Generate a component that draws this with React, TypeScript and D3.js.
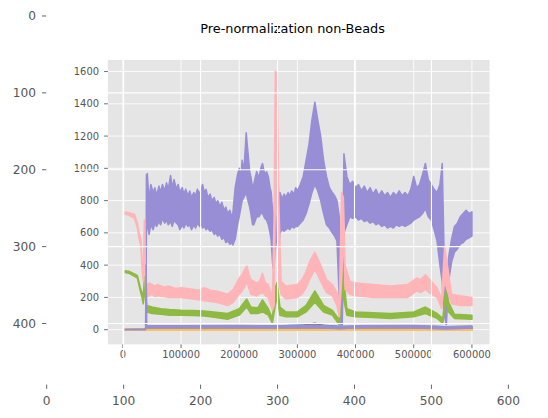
import React from "react";
import * as d3 from "d3";

// ---------- outer (imshow) axes ----------
const OUTER_X_TICKS = [0, 100, 200, 300, 400, 500, 600];
const OUTER_Y_TICKS = [0, 100, 200, 300, 400];
const IMG_W = 640;
const IMG_H = 480;

// ---------- inner chart ----------
const TITLE = "Pre-normalization non-Beads";
const X_TICKS = [0, 100000, 200000, 300000, 400000, 500000, 600000];
const Y_TICKS = [0, 200, 400, 600, 800, 1000, 1200, 1400, 1600];
const X_LIMITS = [-25800, 630300];
const Y_LIMITS = [-91, 1672];

// series as [x (thousands), low edge, high edge] of the noisy trace
const purpleHiPts: [number, number, number][] = [
  [39.5, 10, 10], [40.5, 620, 960], [42, 650, 967], [45, 590, 800], [48, 650, 900], [52, 620, 850],
  [55, 660, 880], [58, 640, 830], [62, 670, 890], [65, 650, 850], [68, 690, 900], [72, 660, 860],
  [75, 680, 910], [78, 650, 870], [82, 670, 955], [85, 640, 880], [88, 680, 930], [92, 660, 870],
  [95, 650, 900], [98, 620, 850], [102, 650, 880], [105, 630, 840], [108, 660, 870], [112, 640, 830],
  [115, 650, 860], [118, 620, 820], [122, 650, 850], [125, 630, 830], [128, 660, 870], [132, 640, 840],
  [135, 650, 880], [137, 630, 900], [140, 640, 850], [143, 620, 870], [146, 630, 820], [150, 610, 840],
  [153, 620, 800], [157, 590, 820], [160, 600, 780], [163, 580, 800], [167, 590, 760], [170, 560, 790],
  [174, 570, 740], [177, 540, 760], [180, 550, 720], [184, 530, 740], [187, 540, 700], [189, 525, 720],
  [193, 560, 880], [197, 650, 960], [200, 700, 1000], [203, 760, 940], [205, 800, 1050], [208, 820, 980],
  [212, 850, 1220], [215, 800, 1100], [218, 760, 980], [220, 720, 950], [223, 650, 880], [225, 650, 900],
  [228, 680, 950], [230, 700, 980], [234, 700, 940], [237, 720, 1000], [240, 720, 1030], [244, 690, 960],
  [247, 680, 980], [250, 650, 950], [253, 600, 880], [255, 550, 850], [258, 380, 700], [260, 400, 650],
  [263, 600, 1130], [266, 500, 1000], [268, 500, 800], [270, 600, 850], [274, 620, 810], [277, 610, 840],
  [280, 620, 820], [284, 630, 850], [287, 620, 830], [290, 640, 860], [294, 630, 840], [297, 640, 880],
  [300, 640, 860], [305, 660, 900], [310, 680, 950], [315, 720, 1050], [320, 780, 1150], [325, 850, 1300],
  [330, 900, 1410], [335, 860, 1300], [340, 800, 1200], [345, 720, 1050], [350, 650, 950], [355, 630, 880],
  [360, 600, 850], [364, 580, 830], [368, 550, 800], [372, 200, 700], [375, 20, 400], [377, 20, 200],
  [380, 600, 1090], [385, 650, 950], [390, 700, 900], [395, 690, 920], [400, 700, 880], [405, 680, 900],
  [410, 690, 860], [415, 670, 890], [420, 680, 850], [425, 660, 880], [430, 670, 840], [435, 650, 870],
  [440, 660, 830], [445, 640, 860], [450, 650, 830], [455, 630, 850], [460, 640, 820], [465, 630, 850],
  [470, 650, 830], [475, 640, 860], [480, 650, 830], [485, 640, 850], [490, 650, 830], [495, 660, 870],
  [500, 680, 950], [505, 690, 880], [510, 700, 900], [515, 720, 960], [520, 750, 1030], [525, 700, 930],
  [530, 680, 900], [535, 620, 870], [540, 550, 850], [545, 400, 900], [549, 300, 1030], [552, 100, 500],
  [556, 30, 200], [560, 300, 450], [565, 420, 560], [570, 480, 640], [575, 500, 660], [580, 530, 700],
  [585, 540, 720], [590, 560, 740], [595, 570, 720], [600, 580, 730],
];

const pinkPts: [number, number, number][] = [
  [4, 715, 730], [10, 710, 725], [20, 690, 715], [25, 630, 660], [28, 560, 600], [31, 520, 560],
  [33, 380, 420], [35, 300, 340], [37, 600, 680], [38.5, 300, 400], [40, 200, 260], [45, 210, 290],
  [50, 220, 280], [55, 205, 270], [60, 210, 280], [70, 205, 265], [80, 200, 270], [90, 200, 255],
  [100, 200, 260], [110, 195, 255], [120, 190, 250], [130, 185, 245], [140, 180, 260], [150, 175, 245],
  [160, 170, 240], [170, 160, 230], [180, 150, 220], [190, 170, 250], [200, 220, 320], [205, 240, 340],
  [210, 270, 380], [213, 300, 395], [217, 250, 340], [220, 220, 310], [230, 210, 290], [235, 220, 300],
  [240, 230, 350], [245, 210, 290], [250, 200, 280], [257, 120, 200], [260, 150, 700], [262, 800, 1600],
  [265, 700, 1590], [268, 300, 800], [272, 220, 300], [280, 190, 270], [290, 195, 275], [300, 200, 280],
  [308, 220, 310], [315, 260, 360], [322, 320, 430], [330, 370, 480], [335, 340, 440], [340, 300, 400],
  [350, 230, 310], [360, 210, 280], [368, 150, 230], [372, 80, 150], [376, 300, 850], [379, 600, 820],
  [382, 250, 400], [390, 220, 300], [400, 210, 290], [415, 205, 285], [430, 200, 280], [445, 200, 275],
  [460, 200, 270], [475, 200, 275], [490, 200, 280], [505, 240, 320], [512, 230, 310], [520, 250, 340],
  [530, 220, 300], [540, 200, 260], [548, 130, 190], [553, 300, 510], [557, 250, 420], [565, 160, 220],
  [580, 150, 210], [600, 150, 200],
];

const greenPts: [number, number, number][] = [
  [4, 355, 365], [10, 350, 362], [20, 330, 345], [25, 320, 335], [30, 240, 260], [33, 200, 230],
  [35, 160, 180], [37, 280, 330], [39, 180, 250], [41, 110, 150], [50, 100, 140], [65, 95, 130],
  [80, 90, 125], [100, 90, 120], [120, 88, 118], [140, 85, 115], [160, 75, 108], [180, 65, 100],
  [200, 90, 130], [213, 140, 190], [220, 100, 140], [232, 100, 135], [240, 110, 185], [250, 90, 130],
  [257, 40, 70], [262, 150, 260], [265, 200, 290], [270, 90, 140], [280, 80, 110], [300, 80, 110],
  [315, 110, 150], [330, 170, 240], [345, 110, 150], [360, 90, 120], [372, 30, 60], [377, 250, 400],
  [380, 180, 300], [385, 90, 130], [400, 80, 110], [430, 75, 105], [460, 70, 100], [500, 80, 110],
  [520, 100, 140], [540, 70, 100], [550, 40, 70], [555, 180, 250], [560, 110, 170], [570, 70, 95],
  [600, 65, 90],
];

const bluePts: [number, number, number][] = [
  [39.5, 2, 4], [40.5, 8, 22], [100, 8, 20], [200, 10, 24], [260, 8, 22], [330, 12, 30],
  [375, 5, 20], [400, 8, 20], [500, 8, 22], [556, 5, 18], [600, 8, 20],
];

const purpleLoPts: [number, number, number][] = [
  [4, 0, 0], [39, 0, 2], [40, 380, 400], [41, 12, 25], [100, 12, 24], [200, 12, 25], [260, 10, 22],
  [330, 14, 28], [375, 5, 20], [400, 12, 24], [500, 12, 25], [556, 5, 18], [600, 10, 22],
];

const grayPts: [number, number, number][] = [
  [4, 0, 3], [100, 2, 6], [200, 2, 8], [300, 3, 10], [315, 8, 30], [330, 12, 40], [345, 8, 25],
  [360, 3, 8], [500, 2, 6], [600, 2, 6],
];

const orangePts: [number, number, number][] = [[4, -3, 3], [600.5, -3, 3]];
const redPts: [number, number, number][] = [[4, 0, 1], [600.5, 0, 1]];

const SERIES = [
  { name: "red", color: "#E24A33", pts: redPts },
  { name: "blue", color: "#348ABD", pts: bluePts },
  { name: "purpleHi", color: "#988ED5", pts: purpleHiPts },
  { name: "gray", color: "#777777", pts: grayPts },
  { name: "orange", color: "#FBC15E", pts: orangePts },
  { name: "green", color: "#8EBA42", pts: greenPts },
  { name: "pink", color: "#FFB5B8", pts: pinkPts },
  { name: "purpleLo", color: "#988ED5", pts: purpleLoPts },
];

const FONT = "DejaVu Sans, Liberation Sans, sans-serif";

export default function App() {
  const ox = d3.scaleLinear().domain([-0.5, IMG_W - 0.5]).range([46.3, 538.8]);
  const oy = d3.scaleLinear().domain([-0.5, IMG_H - 0.5]).range([15.6, 384.6]);
  const k = (ox(IMG_W - 0.5) - ox(-0.5)) / IMG_W;

  const axL = 0.125 * IMG_W, axR = 0.9 * IMG_W, axT = 0.12 * IMG_H, axB = 0.89 * IMG_H;
  const x = d3.scaleLinear().domain(X_LIMITS).range([axL, axR]);
  const y = d3.scaleLinear().domain(Y_LIMITS).range([axB, axT]);

  const area = d3
    .area<[number, number, number]>()
    .x((d) => x(d[0] * 1000))
    .y0((d) => y(d[1]))
    .y1((d) => y(d[2]));

  const tickColor = "#555555";

  return (
    <svg
      width={548}
      height={418}
      style={{ position: "absolute", left: 0, top: 0, background: "white" }}
      fontFamily={FONT}
    >
      <g transform={`translate(${ox(-0.5)},${oy(-0.5)}) scale(${k})`}>
        <rect x={0} y={0} width={IMG_W} height={IMG_H} fill="white" />
        <text
          x={IMG_W / 2}
          y={0.02 * IMG_H}
          textAnchor="middle"
          dominantBaseline="hanging"
          fontSize={16.7}
          fill="#000"
        >
          {TITLE}
        </text>
        <rect x={axL} y={axT} width={axR - axL} height={axB - axT} fill="#E5E5E5" />
        {X_TICKS.map((t) => (
          <line key={"gx" + t} x1={x(t)} x2={x(t)} y1={axT} y2={axB} stroke="white" strokeWidth={1.1} />
        ))}
        {Y_TICKS.map((t) => (
          <line key={"gy" + t} x1={axL} x2={axR} y1={y(t)} y2={y(t)} stroke="white" strokeWidth={1.1} />
        ))}
        <g>
          {SERIES.map((s) => (
            <path
              key={s.name}
              d={area(s.pts) as string}
              fill={s.color}
              stroke={s.color}
              strokeWidth={2}
              strokeLinejoin="round"
            />
          ))}
        </g>
        {X_TICKS.map((t) => (
          <g key={"tx" + t}>
            <line x1={x(t)} x2={x(t)} y1={axB} y2={axB + 4.9} stroke={tickColor} strokeWidth={1.1} />
            <text x={x(t)} y={axB + 17.3} textAnchor="middle" fontSize={12.9} fill={tickColor}>
              {String(t)}
            </text>
          </g>
        ))}
        {Y_TICKS.map((t) => (
          <g key={"ty" + t}>
            <line x1={axL - 4.9} x2={axL} y1={y(t)} y2={y(t)} stroke={tickColor} strokeWidth={1.1} />
            <text x={axL - 11.5} y={y(t) + 4.6} textAnchor="end" fontSize={12.9} fill={tickColor}>
              {String(t)}
            </text>
          </g>
        ))}
      </g>
      {OUTER_X_TICKS.map((t) => (
        <line key={"ogx" + t} x1={ox(t)} x2={ox(t)} y1={oy(-0.5)} y2={oy(IMG_H - 0.5)} stroke="white" strokeWidth={1.1} />
      ))}
      {OUTER_Y_TICKS.map((t) => (
        <line key={"ogy" + t} x1={ox(-0.5)} x2={ox(IMG_W - 0.5)} y1={oy(t)} y2={oy(t)} stroke="white" strokeWidth={1.1} />
      ))}
      {OUTER_X_TICKS.map((t) => (
        <g key={"otx" + t}>
          <line x1={ox(t)} x2={ox(t)} y1={oy(IMG_H - 0.5)} y2={oy(IMG_H - 0.5) + 4.3} stroke={tickColor} strokeWidth={0.9} />
          <text x={ox(t)} y={404.5} textAnchor="middle" fontSize={12.2} fill={tickColor}>
            {String(t)}
          </text>
        </g>
      ))}
      {OUTER_Y_TICKS.map((t) => (
        <g key={"oty" + t}>
          <line x1={ox(-0.5) - 4.3} x2={ox(-0.5)} y1={oy(t)} y2={oy(t)} stroke={tickColor} strokeWidth={0.9} />
          <text x={36} y={oy(t) + 4.4} textAnchor="end" fontSize={12.2} fill={tickColor}>
            {String(t)}
          </text>
        </g>
      ))}
    </svg>
  );
}
